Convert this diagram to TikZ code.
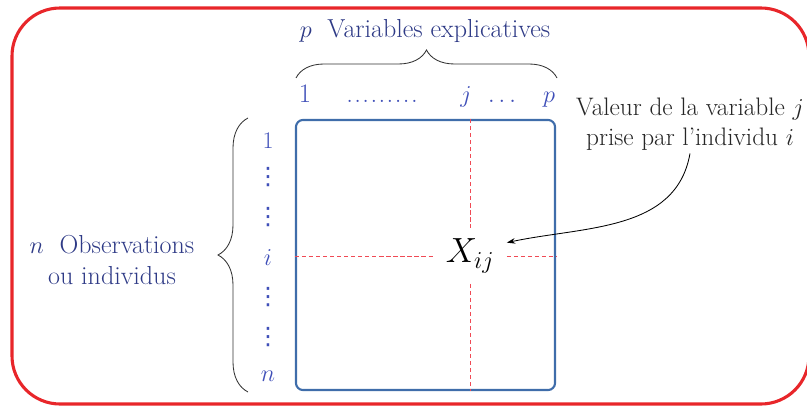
\documentclass[tikz,border=0pt]{standalone}
\usepackage{fontspec}
\usepackage{tikz}
\usepackage{amsmath}
\usepackage{amssymb}
\usepackage{xcolor}
\usetikzlibrary{arrows.meta, positioning, calc, decorations.pathreplacing}
\newfontfamily\dotsfont{DejaVu Sans}
\definecolor{framered}{HTML}{E8262A}
\definecolor{matblue}{HTML}{3F6DAA}
\definecolor{idxblue}{HTML}{3F4FB8}
\definecolor{navy}{HTML}{2E3A86}
\definecolor{gridred}{HTML}{F04A55}

\begin{document}
\begin{tikzpicture}[
    x=0.025cm, y=-0.025cm,
    every node/.style={font=\fontsize{18.5}{22}\selectfont},
    idx/.style={text=idxblue, inner sep=0pt, font=\fontsize{19}{22}\selectfont},
    ridx/.style={text=idxblue, inner sep=0pt, font=\fontsize{17}{20}\selectfont},
    vdt/.style={text=idxblue, inner sep=0pt, font=\dotsfont\fontsize{17}{20}\selectfont},
    lbl/.style={text=navy, align=center},
    note/.style={text=black!85, align=center, inner sep=2pt, font=\fontsize{18}{21.5}\selectfont},
    matbox/.style={draw=matblue, line width=1.5pt, rounded corners=5pt, minimum width=6.475cm, minimum height=6.75cm},
    grid/.style={draw=gridred, line width=0.6pt, dash pattern=on 3pt off 2pt},
    brc/.style={draw=black!80, line width=0.6pt, decorate, decoration={brace, amplitude=#1}},
    frame/.style={draw=framered, line width=2.2pt, rounded corners=1.2cm}
]
\useasboundingbox (0,0) rectangle (807,407);

% outer frame
\draw[frame] (12,8) rectangle (809,404);

% data table
\node[matbox] (mat) at (425.5,255) {};
\node[inner sep=0pt, minimum width=1.825cm, minimum height=1.375cm, font=\fontsize{24}{28}\selectfont] (xij) at (470,256) {$X_{ij}$};

\draw[grid] (mat.west |- xij) -- (xij.west);
\draw[grid] (xij.east) -- (mat.east |- xij);
\draw[grid] (mat.north -| xij) -- (xij.north);
\draw[grid] (xij.south) -- (mat.south -| xij);

% column indices
\node[idx, anchor=base] (c1) at (305,102) {1};
\node[idx, anchor=base] (cdots) at (382,102) {.\kern1pt.\kern1pt.\kern1pt.\kern1pt.\kern1pt.\kern1pt.\kern1pt.\kern1pt.};
\node[idx, anchor=base] (cj) at (466,102) {$j$};
\node[idx, anchor=base] (cdots2) at (502,102) {$\ldots$};
\node[idx, anchor=base] (cp) at (549,102) {$p$};

% row indices
\node[ridx] (r1) at (268,141) {1};
\node[vdt] (rv1) at (268,177) {⋮};
\node[vdt] (rv2) at (268,217) {⋮};
\node[ridx] (ri) at (268,258) {$i$};
\node[vdt] (rv3) at (268,297) {⋮};
\node[vdt] (rv4) at (268,337) {⋮};
\node[ridx] (rn) at (268,376) {$n$};

% braces
\coordinate (tb1) at (296,78);
\coordinate (tb2) at (557,78);
\draw[brc=0.7cm] (tb1) -- (tb2);
\node[lbl, anchor=base] (vars) at (425,38) {$p$\ \ Variables explicatives};

\coordinate (lb1) at (248,392);
\coordinate (lb2) at (248,118);
\draw[brc=0.75cm] (lb1) -- (lb2);
\node[lbl] (obs) at (112,260) {$n$\ \ Observations\\ou individus};

% annotation
\node[note] (val) at (690,124) {Valeur de la variable $j$\\prise par l'individu $i$};
\draw[-{Stealth[length=6pt, width=4pt]}, line width=0.6pt] (val.south) to[out=-100, in=12] (xij.20);

\end{tikzpicture}
\end{document}
